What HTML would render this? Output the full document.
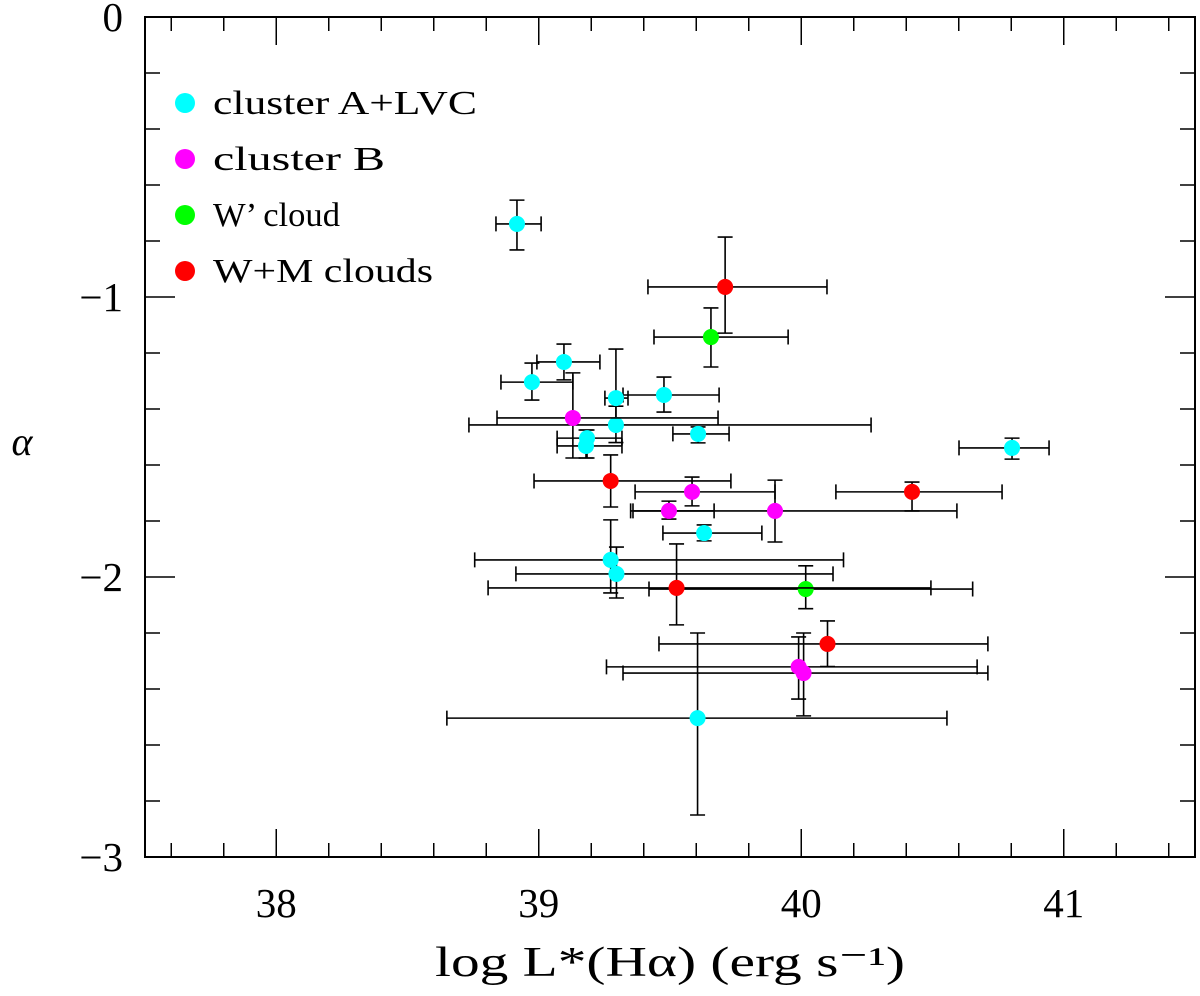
<!DOCTYPE html>
<html><head><meta charset="utf-8"><style>
html,body{margin:0;padding:0;background:#fff;}
svg{display:block;}
text{font-family:"Liberation Serif",serif;fill:#000;}
</style></head><body>
<svg id="chart" width="1200" height="996" viewBox="0 0 1200 996" xmlns="http://www.w3.org/2000/svg">
<g id="axes"></g>
<g id="marks"></g>
<g id="legend"></g>
<text x="670" y="976" font-size="42" text-anchor="middle" textLength="470" lengthAdjust="spacingAndGlyphs">log L*(Hα)  (erg s⁻¹)</text>
<text x="22" y="455" font-size="40" font-style="italic" text-anchor="middle">α</text>
</svg>
<script>
// data arrays: [x, xlo, xhi, y, ylo, yhi]
const cyanPts = [
 [38.917,38.837,39.009,-0.739,-0.832,-0.654],
 [39.096,38.993,39.233,-1.232,-1.296,-1.168],
 [38.974,38.856,39.130,-1.304,-1.368,-1.236],
 [39.294,39.252,39.340,-1.361,-1.45,-1.186],
 [39.477,39.321,39.687,-1.350,-1.411,-1.286],
 [39.294,38.734,40.266,-1.457,-1.52,-1.39],
 [39.184,39.070,39.317,-1.504,-1.575,-1.475],
 [39.180,39.070,39.317,-1.532,-1.575,-1.475],
 [39.607,39.511,39.725,-1.489,-1.521,-1.464],
 [39.630,39.473,39.850,-1.843,-1.871,-1.814],
 [39.274,38.756,40.161,-1.939,-2.057,-1.796],
 [39.296,38.913,40.121,-1.989,-2.075,-1.893],
 [39.605,38.650,40.555,-2.504,-2.850,-2.200],
 [40.803,40.601,40.944,-1.539,-1.579,-1.504]
];
const magentaPts = [
 [39.130,38.841,39.683,-1.432,-1.575,-1.271],
 [39.584,39.367,39.900,-1.696,-1.746,-1.643],
 [39.496,39.359,39.668,-1.764,-1.793,-1.729],
 [39.900,39.350,40.593,-1.764,-1.875,-1.654],
 [39.990,39.258,40.670,-2.321,-2.436,-2.214],
 [40.009,39.321,40.711,-2.343,-2.496,-2.200]
];
const greenPts = [
 [39.656,39.439,39.950,-1.143,-1.250,-1.039],
 [40.017,39.420,40.653,-2.043,-2.113,-1.960]
];
const redPts = [
 [39.710,39.416,40.098,-0.964,-1.129,-0.786],
 [39.274,38.982,39.732,-1.657,-1.750,-1.564],
 [39.525,38.807,40.494,-2.039,-2.171,-1.882],
 [40.422,40.132,40.765,-1.696,-1.764,-1.661],
 [40.100,39.458,40.711,-2.239,-2.320,-2.157]
];
const xTickLabels = [38,39,40,41];
const yTickLabels = [0,-1,-2,-3];
const legendLabels = ["cluster A+LVC","cluster B","W’ cloud","W+M clouds"];

const L=145,R=1195,T=17,B=857;
const X0=37.5,X1=41.5,Y0=-3,Y1=0;
function sx(v){return L+(v-X0)/(X1-X0)*(R-L);}
function sy(v){return B-(v-Y0)/(Y1-Y0)*(B-T);}
const NS="http://www.w3.org/2000/svg";
function mk(tag,attrs,parent){const e=document.createElementNS(NS,tag);for(const k in attrs)e.setAttribute(k,attrs[k]);parent.appendChild(e);return e;}
const axes=document.getElementById('axes');
const frame=mk('rect',{x:L,y:T,width:R-L,height:B-T,fill:'none',stroke:'#000','stroke-width':2},axes);


for(let i=0;i<20;i++){
  const v=37.6+i*0.2; const px=sx(v);
  const major=Math.abs(v-Math.round(v))<1e-6; const len=major?28:14;
  const t1=mk('line',{x1:px,x2:px,y1:B,y2:B-len,stroke:'#000','stroke-width':1.5},axes);
  
  
  const t2=mk('line',{x1:px,x2:px,y1:T,y2:T+len,stroke:'#000','stroke-width':1.5},axes);
  
  
}
xTickLabels.forEach(v=>{
  const t=mk('text',{x:sx(v),y:917,'font-size':41,'text-anchor':'middle'},axes);
  t.textContent=String(v);
  
  
});
for(let i=0;i<=15;i++){
  const v=Y0+i*0.2; const py=sy(v);
  const major=Math.abs(v-Math.round(v))<1e-6; const len=major?30:15;
  const t1=mk('line',{x1:L,x2:L+len,y1:py,y2:py,stroke:'#000','stroke-width':1.5},axes);
  
  
  const t2=mk('line',{x1:R,x2:R-len,y1:py,y2:py,stroke:'#000','stroke-width':1.5},axes);
  
  
}
yTickLabels.forEach(v=>{
  const t=mk('text',{x:123,y:sy(v)+14,'font-size':41,'text-anchor':'end'},axes);
  t.textContent=v<0?'−'+Math.abs(v):String(v);
  
  
});
const marks=document.getElementById('marks');
function drawSeries(pts,color,name){
  const g=mk('g',{},marks);
  
  
  pts.forEach(p=>{
    const [x,xl,xh,y,yl,yh]=p;
    const cx=sx(x),cy=sy(y),c=7.5;
    const eb=mk('path',{d:`M${sx(xl)},${cy}H${sx(xh)}M${sx(xl)},${cy-c}V${cy+c}M${sx(xh)},${cy-c}V${cy+c}M${cx},${sy(yl)}V${sy(yh)}M${cx-c},${sy(yl)}H${cx+c}M${cx-c},${sy(yh)}H${cx+c}`,stroke:'#000','stroke-width':1.6,fill:'none'},g);
    
    
  });
  pts.forEach(p=>{
    const dot=mk('circle',{cx:sx(p[0]),cy:sy(p[3]),r:8,fill:color},g);
    
    
  });
}
drawSeries(cyanPts,'#00ffff','cluster-a-lvc');
drawSeries(magentaPts,'#ff00ff','cluster-b');
drawSeries(greenPts,'#00ff00','w-prime-cloud');
drawSeries(redPts,'#ff0000','w-m-clouds');
const legend=document.getElementById('legend');
const lcolors=['#00ffff','#ff00ff','#00ff00','#ff0000'];
const lwidths=[264,172,127,220];
legendLabels.forEach((lab,i)=>{
  const y=103+i*56;
  const d=mk('circle',{cx:185,cy:y,r:10,fill:lcolors[i]},legend);
  
  
  const t=mk('text',{x:213,y:y+11,'font-size':34,textLength:lwidths[i],lengthAdjust:'spacingAndGlyphs'},legend);
  t.textContent=lab;
  
  
});
</script>
</body></html>
